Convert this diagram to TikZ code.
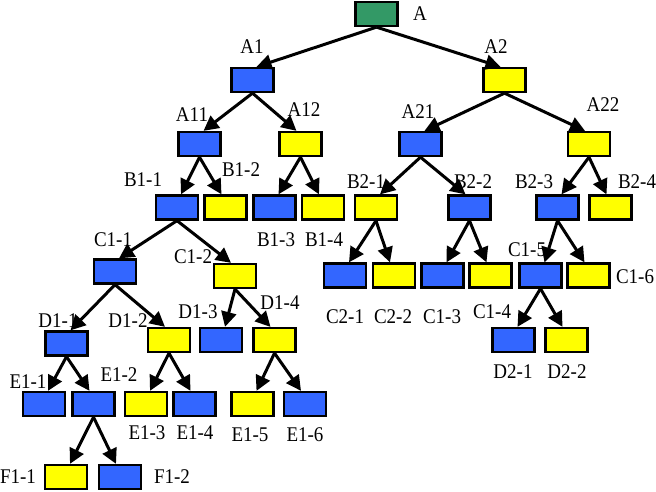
\documentclass[tikz,border=0pt]{standalone}
\usepackage{fontspec}
\setmainfont{Liberation Serif}
\usetikzlibrary{arrows.meta}
\definecolor{boxblue}{RGB}{51,102,255}
\definecolor{boxyellow}{RGB}{255,255,0}
\definecolor{boxgreen}{RGB}{51,153,102}
\begin{document}
\begin{tikzpicture}[x=1pt,y=-1pt,
  box/.style={draw=black,line width=2.3pt,minimum width=42pt,minimum height=24pt,inner sep=0pt},
  bbox/.style={box,fill=boxblue},
  ybox/.style={box,fill=boxyellow},
  gbox/.style={box,fill=boxgreen},
  lbl/.style={font=\fontsize{19}{19}\selectfont,inner sep=0pt,yscale=1.1},
  edge/.style={line width=3pt,-{Triangle[length=15pt,width=15pt]}}]
\useasboundingbox (0,0) rectangle (656,491);
% boxes
\node[gbox] (a) at (376.5,14) {};
\node[bbox] (a1) at (252.5,80) {};
\node[ybox] (a2) at (504.5,80) {};
\node[bbox] (a11) at (199.5,144) {};
\node[ybox] (a12) at (300.5,144) {};
\node[bbox] (a21) at (420.5,144) {};
\node[ybox] (a22) at (589,144) {};
\node[bbox] (b11) at (177,207.5) {};
\node[ybox] (b12) at (225.5,207.5) {};
\node[bbox] (b13) at (274.5,207.5) {};
\node[ybox] (b14) at (323,207.5) {};
\node[ybox] (b21) at (376,207.5) {};
\node[bbox] (b22) at (469.5,207.5) {};
\node[bbox] (b23) at (557.5,207.5) {};
\node[ybox] (b24) at (610.5,207.5) {};
\node[bbox] (c21) at (345,275.5) {};
\node[ybox] (c22) at (394,275.5) {};
\node[bbox] (c13) at (442.5,275.5) {};
\node[ybox] (c14) at (490.5,275.5) {};
\node[bbox] (c15) at (540.5,275.5) {};
\node[ybox] (c16) at (588.5,275.5) {};
\node[bbox] (c11) at (115,271.5) {};
\node[ybox] (c12) at (235,276) {};
\node[bbox] (d11) at (66.5,343.5) {};
\node[ybox] (d12) at (169,340) {};
\node[bbox] (d13) at (221,340) {};
\node[ybox] (d14) at (274.5,340) {};
\node[bbox] (d21) at (513.5,340) {};
\node[ybox] (d22) at (566.5,340) {};
\node[bbox] (e11) at (44,404) {};
\node[bbox] (e12) at (93.5,404) {};
\node[ybox] (e13) at (146,404) {};
\node[bbox] (e14) at (194.5,404) {};
\node[ybox] (e15) at (252.5,404) {};
\node[bbox] (e16) at (305,404) {};
\node[ybox] (f11) at (66,477) {};
\node[bbox] (f12) at (120,477) {};
% edges
\foreach \p/\l/\r in {a/a1/a2, a1/a11/a12, a2/a21/a22, a11/b11/b12, a12/b13/b14,
  a21/b21/b22, a22/b23/b24, b11/c11/c12, b21/c21/c22, b22/c13/c14, b23/c15/c16,
  c15/d21/d22, c11/d11/d12, c12/d13/d14, d11/e11/e12, d12/e13/e14, d14/e15/e16,
  e12/f11/f12}{
  \draw[edge] (\p.south) -- ([xshift=4pt]\l.north);
  \draw[edge] (\p.south) -- ([xshift=-4pt]\r.north);
}
% labels
\node[lbl] (la) at (420,14) {A};
\node[lbl] (la1) at (252,47) {A1};
\node[lbl] (la2) at (496,47) {A2};
\node[lbl] (la11) at (192,115) {A11};
\node[lbl] (la12) at (304,110) {A12};
\node[lbl] (la21) at (418,112) {A21};
\node[lbl] (la22) at (603,105) {A22};
\node[lbl] (lb11) at (143,180) {B1-1};
\node[lbl] (lb12) at (241,170) {B1-2};
\node[lbl] (lb13) at (276,240) {B1-3};
\node[lbl] (lb14) at (324,240) {B1-4};
\node[lbl] (lb21) at (366,182) {B2-1};
\node[lbl] (lb22) at (473,182) {B2-2};
\node[lbl] (lb23) at (534,182) {B2-3};
\node[lbl] (lb24) at (637,182) {B2-4};
\node[lbl] (lc11) at (113,240) {C1-1};
\node[lbl] (lc12) at (193,257) {C1-2};
\node[lbl] (lc21) at (345,317) {C2-1};
\node[lbl] (lc22) at (393,317) {C2-2};
\node[lbl] (lc13) at (442,317) {C1-3};
\node[lbl] (lc14) at (492,312) {C1-4};
\node[lbl] (lc15) at (527,250) {C1-5};
\node[lbl] (lc16) at (635,277) {C1-6};
\node[lbl] (ld11) at (58,321) {D1-1};
\node[lbl] (ld12) at (128,321) {D1-2};
\node[lbl] (ld13) at (198,312) {D1-3};
\node[lbl] (ld14) at (280,303) {D1-4};
\node[lbl] (ld21) at (513,372) {D2-1};
\node[lbl] (ld22) at (567,372) {D2-2};
\node[lbl] (le11) at (28,382) {E1-1};
\node[lbl] (le12) at (119,375) {E1-2};
\node[lbl] (le13) at (147,433) {E1-3};
\node[lbl] (le14) at (195,433) {E1-4};
\node[lbl] (le15) at (250,435) {E1-5};
\node[lbl] (le16) at (305,435) {E1-6};
\node[lbl] (lf11) at (18,477) {F1-1};
\node[lbl] (lf12) at (172,477) {F1-2};
\end{tikzpicture}
\end{document}
